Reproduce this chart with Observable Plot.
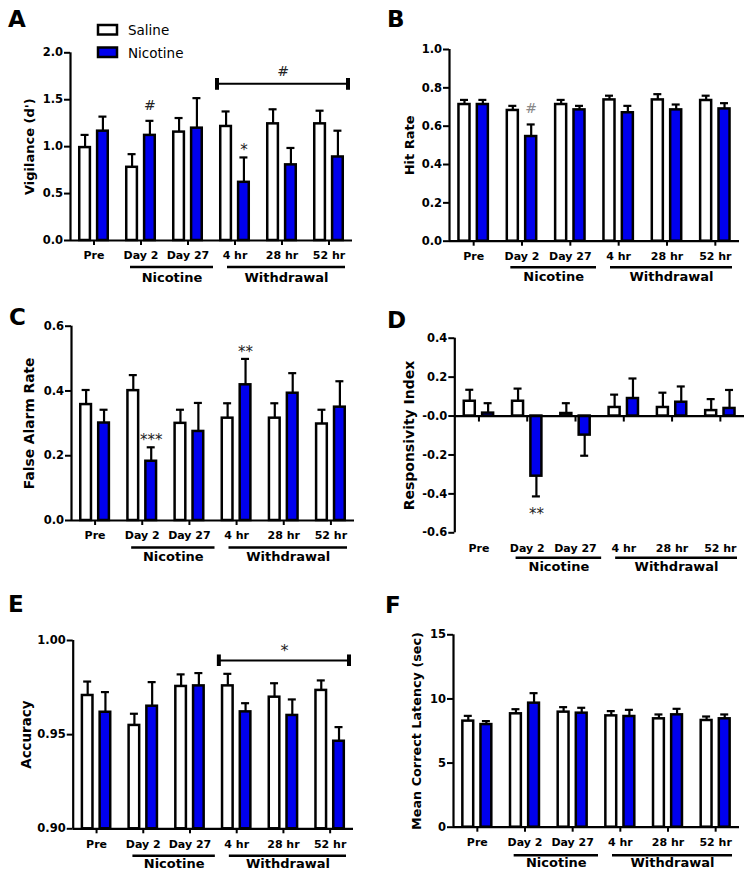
<!DOCTYPE html>
<html>
<head>
<meta charset="utf-8">
<script src="https://cdn.jsdelivr.net/npm/d3@7"></script>
<script src="https://cdn.jsdelivr.net/npm/@observablehq/plot@0.6"></script>
<style>
  body { margin: 0; background: #fff; }
  #fig { position: relative; width: 755px; height: 883px; background: #fff; overflow: hidden; font-family: "DejaVu Sans", sans-serif; }
  #fig svg { position: absolute; }
</style>
</head>
<body>
<div id="fig"></div>
<script>
// ---------------- data ----------------
const timepoints = ["Pre", "Day 2", "Day 27", "4 hr", "28 hr", "52 hr"];
const groups = ["Saline", "Nicotine"];
const phaseNames = ["Nicotine", "Withdrawal"];
const phaseStart = ["Day 2", "4 hr"];
const phaseEnd = ["Day 27", "52 hr"];

// A: Vigilance (d')
const vigilanceSaline = [0.99, 0.78, 1.155, 1.215, 1.243, 1.243];
const vigilanceSalineSem = [0.135, 0.14, 0.15, 0.16, 0.155, 0.14];
const vigilanceNicotine = [1.165, 1.12, 1.197, 0.62, 0.806, 0.89];
const vigilanceNicotineSem = [0.155, 0.155, 0.32, 0.265, 0.18, 0.28];
const vigilanceTicks = [0, 0.5, 1, 1.5, 2];
const vigilanceTickLabels = ["0.0", "0.5", "1.0", "1.5", "2.0"];
const vigilanceSig = [{time: "Day 2", group: "Nicotine", symbol: "#"}, {time: "4 hr", group: "Nicotine", symbol: "*"}];
const vigilanceBracket = [{from: "4 hr", to: "52 hr", y: 1.67, symbol: "#"}];

// B: Hit Rate
const hitSaline = [0.713, 0.682, 0.713, 0.737, 0.737, 0.734];
const hitSalineSem = [0.024, 0.024, 0.024, 0.022, 0.03, 0.025];
const hitNicotine = [0.713, 0.546, 0.685, 0.670, 0.685, 0.690];
const hitNicotineSem = [0.024, 0.063, 0.021, 0.036, 0.028, 0.03];
const hitTicks = [0, 0.2, 0.4, 0.6, 0.8, 1.0];
const hitTickLabels = ["0.0", "0.2", "0.4", "0.6", "0.8", "1.0"];
const hitSig = [{time: "Day 2", group: "Nicotine", symbol: "#"}];

// C: False Alarm Rate
const faSaline = [0.358, 0.401, 0.300, 0.316, 0.316, 0.298];
const faSalineSem = [0.045, 0.048, 0.042, 0.046, 0.046, 0.044];
const faNicotine = [0.301, 0.183, 0.275, 0.419, 0.393, 0.350];
const faNicotineSem = [0.041, 0.043, 0.088, 0.080, 0.062, 0.080];
const faTicks = [0, 0.2, 0.4, 0.6];
const faTickLabels = ["0.0", "0.2", "0.4", "0.6"];
const faSig = [{time: "Day 2", group: "Nicotine", symbol: "***"}, {time: "4 hr", group: "Nicotine", symbol: "**"}];

// D: Responsivity Index
const riSaline = [0.076, 0.076, 0.013, 0.044, 0.044, 0.028];
const riSalineSem = [0.059, 0.065, 0.053, 0.066, 0.076, 0.059];
const riNicotine = [0.015, -0.309, -0.098, 0.090, 0.071, 0.039];
const riNicotineSem = [0.051, 0.104, 0.106, 0.103, 0.081, 0.095];
const riTicks = [0.4, 0.2, 0, -0.2, -0.4, -0.6];
const riTickLabels = ["0.4", "0.2", "-0.0", "-0.2", "-0.4", "-0.6"];
const riSig = [{time: "Day 2", group: "Nicotine", symbol: "**"}];

// E: Accuracy
const accSaline = [0.9708, 0.9549, 0.9756, 0.9759, 0.9699, 0.9735];
const accSalineSem = [0.0074, 0.0062, 0.0064, 0.0064, 0.0074, 0.0053];
const accNicotine = [0.9619, 0.9651, 0.9759, 0.9621, 0.9602, 0.9465];
const accNicotineSem = [0.0107, 0.0128, 0.0068, 0.0046, 0.0085, 0.0075];
const accTicks = [0.90, 0.95, 1.00];
const accTickLabels = ["0.90", "0.95", "1.00"];
const accBracket = [{from: "4 hr", to: "52 hr", y: 0.9894, symbol: "*"}];

// F: Mean Correct Latency (sec)
const latSaline = [8.27, 8.84, 8.97, 8.68, 8.45, 8.32];
const latSalineSem = [0.41, 0.36, 0.39, 0.37, 0.34, 0.31];
const latNicotine = [8.00, 9.67, 8.89, 8.63, 8.76, 8.45];
const latNicotineSem = [0.27, 0.78, 0.42, 0.52, 0.47, 0.34];
const latTicks = [0, 5, 10, 15];
const latTickLabels = ["0", "5", "10", "15"];

// ---------------- drawing ----------------
const BLUE = "#0000ee";
const FONT = "DejaVu Sans";
const phaseInsets = [[13, -2], [16, 7]];
const fig = document.getElementById("fig");

function buildPanel(p) {
  const W = p.width, H = p.height;
  const bw = (W - p.ml - p.mr) / timepoints.length;
  const off = 0.19 * bw;
  const sw = 2.5;
  const [yMin, yMax] = p.domain;
  const rows = timepoints.flatMap((t, i) => [
    {time: t, group: groups[0], mean: p.saline[i], sem: p.salineSem[i]},
    {time: t, group: groups[1], mean: p.nicotine[i], sem: p.nicotineSem[i]}
  ]);
  for (const r of rows) r.end = r.mean < p.base ? r.mean - r.sem : r.mean + r.sem;
  const sal = rows.filter(r => r.group === groups[0]);
  const nic = rows.filter(r => r.group === groups[1]);
  const labelOf = new Map(p.ticks.map((v, i) => [v, p.tickLabels[i]]));
  const marks = [];

  // y axis line + ticks
  marks.push(Plot.ruleX([timepoints[0]], {x: d => d, y1: yMin, y2: yMax, dx: -bw / 2, stroke: "black", strokeWidth: 2.2}));
  marks.push(Plot.axisY({ticks: p.ticks, tickFormat: d => labelOf.get(d), tickSize: 6, tickPadding: 1.5, strokeWidth: 2, label: null, fontSize: 11.5, fontWeight: "bold"}));
  // x axis labels
  marks.push(Plot.axisX({tickSize: p.zeroAxis ? 0 : 5, tickPadding: p.zeroAxis ? 11 : 6, strokeWidth: 2, label: null, fontSize: 11, fontWeight: "bold"}));

  // error bars
  for (const [data, sign] of [[sal, -1], [nic, 1]]) {
    marks.push(Plot.ruleX(data, {x: "time", y1: "mean", y2: "end", dx: sign * off, stroke: "black", strokeWidth: 2.2}));
    marks.push(Plot.tickY(data, {x: "time", y: "end", dx: sign * off, inset: bw / 2 - 4, stroke: "black", strokeWidth: 2.2}));
  }
  // bars
  marks.push(Plot.barY(sal, {x: "time", y1: p.base, y2: "mean", fill: "white", stroke: "black", strokeWidth: sw,
    insetLeft: 0.17 * bw + sw / 2, insetRight: 0.55 * bw + sw / 2}));
  marks.push(Plot.barY(nic, {x: "time", y1: p.base, y2: "mean", fill: BLUE, stroke: "black", strokeWidth: sw,
    insetLeft: 0.55 * bw + sw / 2, insetRight: 0.17 * bw + sw / 2}));

  // baseline
  marks.push(Plot.ruleY([p.zeroAxis ? 0 : yMin], {stroke: "black", strokeWidth: 2.2}));
  if (p.zeroAxis) {
    marks.push(Plot.ruleX(timepoints, {x: d => d, y1: 0, y2: 0, insetBottom: -6, stroke: "black", strokeWidth: 2}));
  }

  // phase underlines and labels
  phaseNames.forEach((name, k) => {
    const span = {name, from: phaseStart[k], to: phaseEnd[k]};
    const [iL, iR] = phaseInsets[k];
    marks.push(Plot.ruleY([span], {x1: "from", x2: "to", y: () => yMin, dy: p.underDy, insetLeft: iL, insetRight: iR, stroke: "black", strokeWidth: 2.5}));
    const i0 = timepoints.indexOf(span.from), i1 = timepoints.indexOf(span.to);
    const dx = ((i0 + i1 + 1) / 2 - i0 - 0.5) * bw + (iL - iR) / 2;
    marks.push(Plot.text([span], {x: "from", text: "name", frameAnchor: "bottom", dy: p.phaseDy, dx, fontSize: 13, fontWeight: "bold", fill: "black"}));
  });

  // significance symbols over single bars
  if (p.sig) {
    const items = p.sig.map(s => {
      const r = rows.find(r => r.time === s.time && r.group === s.group);
      return {...s, end: r.end, below: r.end < r.mean, hash: s.symbol.startsWith("#")};
    });
    const hashes = items.filter(d => d.hash);
    const starsUp = items.filter(d => !d.hash && !d.below);
    const starsDown = items.filter(d => !d.hash && d.below);
    const common = {x: "time", y: "end", text: "symbol", dx: off, lineAnchor: "bottom", fontWeight: "normal"};
    if (hashes.length) marks.push(Plot.text(hashes, {...common, dy: -11, fontSize: 14, fill: p.hashColor || "#222"}));
    if (starsUp.length) marks.push(Plot.text(starsUp, {...common, dy: -2, fontSize: 15, fill: "#222"}));
    if (starsDown.length) marks.push(Plot.text(starsDown, {...common, dy: 23, fontSize: 15, fill: "#222"}));
  }

  // bracket across the withdrawal sessions
  if (p.bracket) {
    const br = p.bracket;
    const bL = 6, bR = 4;
    let rule;
    try {
      rule = Plot.ruleY(br, {x1: "from", x2: "to", y: "y", insetLeft: bL, insetRight: bR, stroke: "black", strokeWidth: 2, markerStart: "tick", markerEnd: "tick"});
    } catch (e) {
      rule = Plot.ruleY(br, {x1: "from", x2: "to", y: "y", insetLeft: bL, insetRight: bR, stroke: "black", strokeWidth: 2});
    }
    marks.push(rule);
    const i0 = timepoints.indexOf(br[0].from), i1 = timepoints.indexOf(br[0].to);
    const dx = ((i0 + i1 + 1) / 2 - i0 - 0.5) * bw + (bL - bR) / 2;
    const isHash = br[0].symbol.startsWith("#");
    marks.push(Plot.text(br, {x: "from", y: "y", text: "symbol", dx, dy: isHash ? -8 : -4, lineAnchor: "bottom",
      fontSize: isHash ? 14 : 16, fontWeight: "normal", fill: "#222"}));
  }

  // y axis title
  marks.push(Plot.text([p.title], {text: d => d, frameAnchor: "left", textAnchor: "middle", lineAnchor: "middle",
    rotate: -90, dx: p.titleDx, fontSize: p.titleSize, fontWeight: "bold", fill: "black"}));

  const svg = Plot.plot({
    width: W, height: H,
    marginLeft: p.ml, marginRight: p.mr, marginTop: p.mt, marginBottom: p.mb,
    x: {type: "band", domain: timepoints, padding: 0, round: false},
    y: {domain: p.domain},
    style: {fontFamily: FONT, fontSize: "11px", fontWeight: "bold", color: "black", background: "none", overflow: "visible"},
    marks
  });
  svg.style.left = p.left + "px";
  svg.style.top = p.top + "px";
  fig.appendChild(svg);
}

buildPanel({left: 0, top: 0, width: 377, height: 300, ml: 70, mr: 25, mt: 52.3, mb: 60,
  domain: [0, 2], base: 0, ticks: vigilanceTicks, tickLabels: vigilanceTickLabels,
  saline: vigilanceSaline, salineSem: vigilanceSalineSem, nicotine: vigilanceNicotine, nicotineSem: vigilanceNicotineSem,
  title: "Vigilance (d')", titleSize: 13, titleDx: -41, underDy: 26.5, phaseDy: 41,
  sig: vigilanceSig, bracket: vigilanceBracket});

buildPanel({left: 377, top: 0, width: 378, height: 300, ml: 72, mr: 16, mt: 49, mb: 59.3,
  domain: [0, 1], base: 0, ticks: hitTicks, tickLabels: hitTickLabels,
  saline: hitSaline, salineSem: hitSalineSem, nicotine: hitNicotine, nicotineSem: hitNicotineSem,
  title: "Hit Rate", titleSize: 13, titleDx: -40, underDy: 26, phaseDy: 40,
  sig: hitSig, hashColor: "#888"});

buildPanel({left: 0, top: 300, width: 377, height: 290, ml: 71, mr: 23, mt: 25.7, mb: 70,
  domain: [0, 0.6], base: 0, ticks: faTicks, tickLabels: faTickLabels,
  saline: faSaline, salineSem: faSalineSem, nicotine: faNicotine, nicotineSem: faNicotineSem,
  title: "False Alarm Rate", titleSize: 13.8, titleDx: -42, underDy: 27, phaseDy: 40,
  sig: faSig});

buildPanel({left: 377, top: 300, width: 378, height: 290, ml: 77.3, mr: 11, mt: 37.7, mb: 57.7,
  domain: [-0.6, 0.4], base: 0, zeroAxis: true, ticks: riTicks, tickLabels: riTickLabels,
  saline: riSaline, salineSem: riSalineSem, nicotine: riNicotine, nicotineSem: riNicotineSem,
  title: "Responsivity Index", titleSize: 14, titleDx: -45, underDy: 25, phaseDy: 38,
  sig: riSig});

buildPanel({left: 0, top: 590, width: 377, height: 293, ml: 72.7, mr: 24, mt: 50, mb: 54.7,
  domain: [0.9, 1.0], base: 0.9, ticks: accTicks, tickLabels: accTickLabels,
  saline: accSaline, salineSem: accSalineSem, nicotine: accNicotine, nicotineSem: accNicotineSem,
  title: "Accuracy", titleSize: 13.4, titleDx: -46, underDy: 27, phaseDy: 39,
  bracket: accBracket});

buildPanel({left: 377, top: 590, width: 378, height: 293, ml: 76, mr: 16, mt: 44.3, mb: 56.3,
  domain: [0, 15], base: 0, ticks: latTicks, tickLabels: latTickLabels,
  saline: latSaline, salineSem: latSalineSem, nicotine: latNicotine, nicotineSem: latNicotineSem,
  title: "Mean Correct Latency (sec)", titleSize: 12.8, titleDx: -37, underDy: 28, phaseDy: 40});

// ---------------- overlay: panel letters + legend ----------------
const overlay = d3.select(fig).append("svg")
  .attr("width", 755).attr("height", 883)
  .style("left", "0px").style("top", "0px").style("pointer-events", "none")
  .attr("font-family", FONT);

const panelLetters = ["A", "B", "C", "D", "E", "F"];
const letterPos = [[8, 27], [387, 27], [9, 325], [387, 328], [8, 612], [385, 613]];
overlay.selectAll("text.letter").data(panelLetters).join("text")
  .attr("class", "letter")
  .attr("x", (d, i) => letterPos[i][0]).attr("y", (d, i) => letterPos[i][1])
  .attr("font-size", 23).attr("font-weight", "bold").attr("fill", "black")
  .text(d => d);

const legend = overlay.append("g");
const legendFill = ["white", BLUE];
groups.forEach((g, i) => {
  const y0 = 25 + i * 22.5;
  legend.append("rect").attr("x", 98).attr("y", y0).attr("width", 19).attr("height", 9.5)
    .attr("fill", legendFill[i]).attr("stroke", "black").attr("stroke-width", 2.5);
  legend.append("text").attr("x", 128).attr("y", y0 + 10).attr("font-size", 13.5)
    .attr("fill", "black").text(g);
});
</script>
</body>
</html>
